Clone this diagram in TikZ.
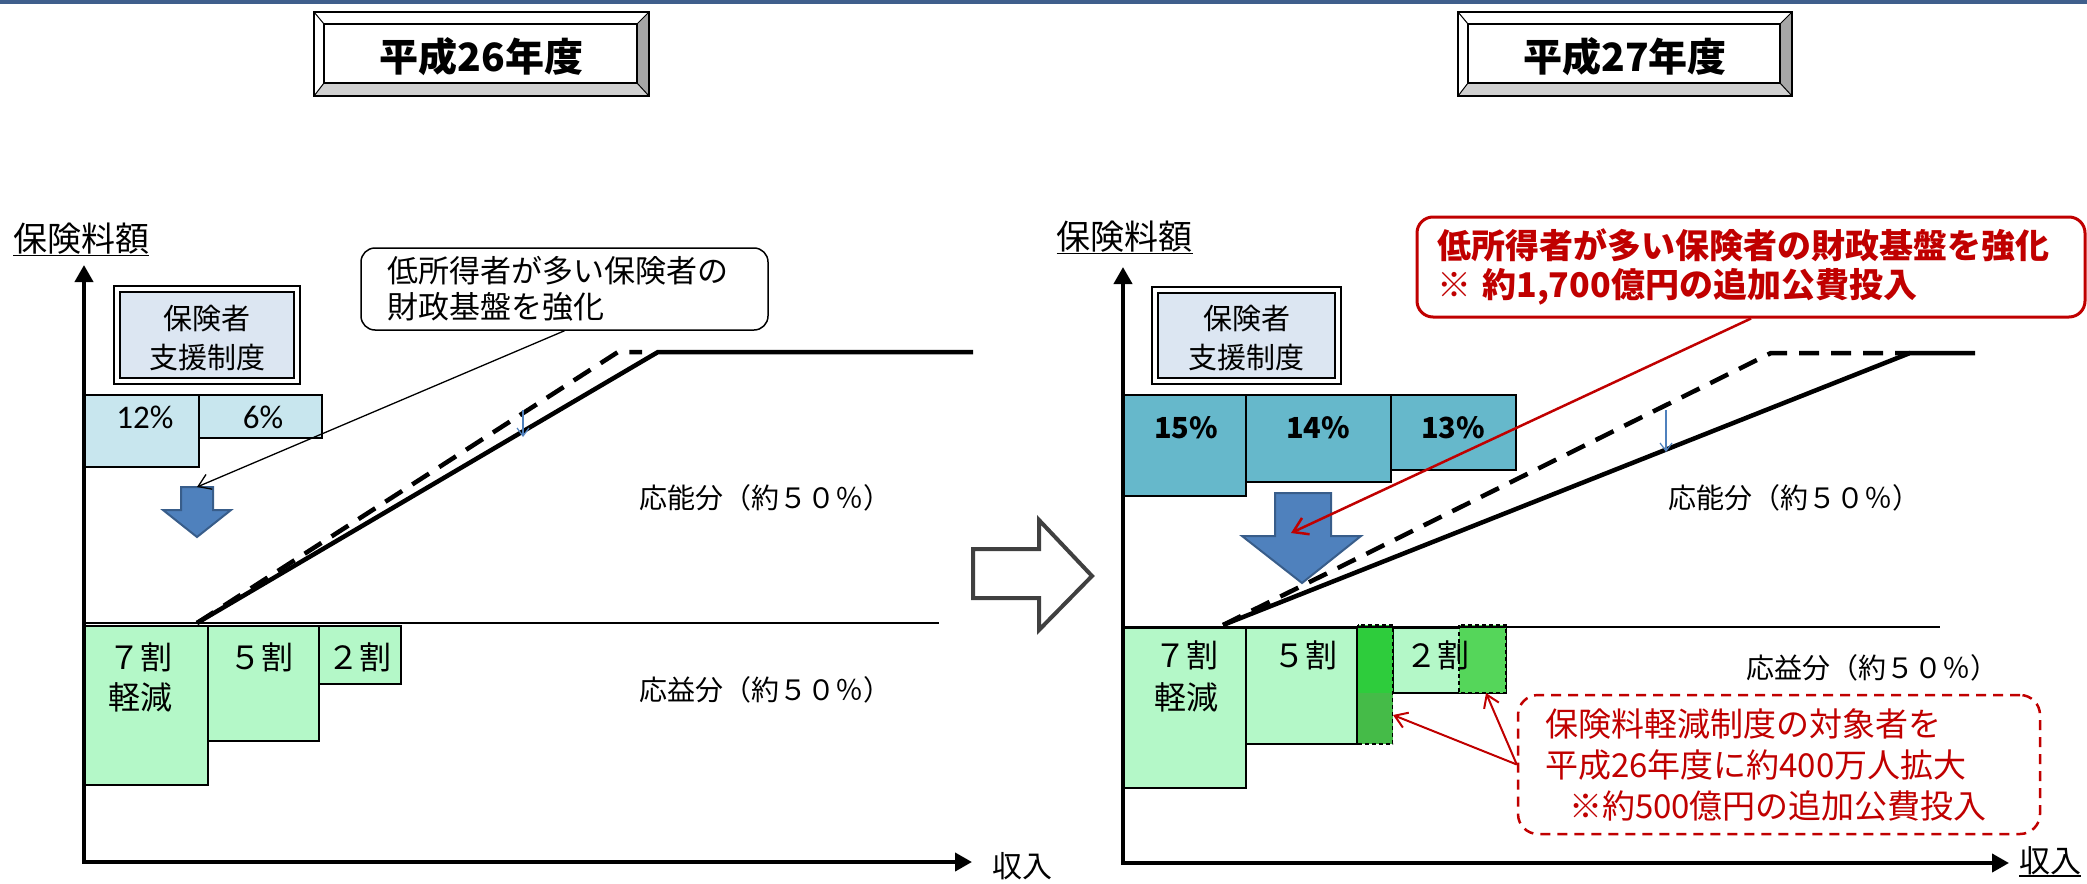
\documentclass[tikz,border=0pt]{standalone}
\usepackage{fontspec}
\setmainfont{Noto Sans CJK JP}
\newfontfamily\calfont{Carlito}
\usetikzlibrary{arrows.meta}
\definecolor{topblue}{HTML}{3F5F8C}
\definecolor{suppfill}{HTML}{DCE6F2}
\definecolor{lightcyan}{HTML}{C8E6EE}
\definecolor{tealbox}{HTML}{66B8CB}
\definecolor{lgreen}{HTML}{B4F8C8}
\definecolor{dgreen}{HTML}{2ECC3C}
\definecolor{mgreen}{HTML}{45BB48}
\definecolor{sgreen}{HTML}{55D65A}
\definecolor{arrblue}{HTML}{4F81BD}
\definecolor{arrborder}{HTML}{385D8A}
\definecolor{darkred}{HTML}{C00000}
\definecolor{arrgray}{HTML}{404040}
\definecolor{bevright}{HTML}{A6A6A6}
\definecolor{bevbottom}{HTML}{D0D0D0}
\newcommand\fs[2]{\fontsize{#1pt}{#2pt}\selectfont}
\newcommand\titlebox[4]{%
  \fill[white] (#1,12) -- (#2,12) -- ({#2-12},24) -- ({#1+10},24) -- cycle;
  \fill[white] (#1,12) -- ({#1+10},24) -- ({#1+10},83) -- (#1,96) -- cycle;
  \fill[bevright] (#2,12) -- (#2,96) -- ({#2-12},83) -- ({#2-12},24) -- cycle;
  \fill[bevbottom] (#1,96) -- (#2,96) -- ({#2-12},83) -- ({#1+10},83) -- cycle;
  \draw[line width=1pt] (#1,12) -- ({#1+10},24) (#2,12) -- ({#2-12},24)
        (#1,96) -- ({#1+10},83) (#2,96) -- ({#2-12},83);
  \draw[line width=2.5pt] (#1,12) rectangle (#2,96);
  \draw[line width=1.5pt] ({#1+10},24) rectangle ({#2-12},83);
  \node[tx, font=\bfseries\fs{39}{39}] (#3) at ({(#1+#2)/2},57) {#4};
}
\newcommand\suppbox[5]{%
  \draw[line width=2.5pt, fill=white] (#1,#2) rectangle (#3,#4);
  \draw[line width=2.5pt, fill=suppfill] ({#1+6},{#2+6}) rectangle ({#3-6},{#4-6});
  \node[tx, font=\fs{29}{39}, align=center] (#5) at ({(#1+#3)/2},{(#2+#4)/2+3}) {保険者\\支援制度};
}
\begin{document}
\begin{tikzpicture}[x=1pt,y=-1pt,
  tx/.style={inner sep=0pt, outer sep=0pt, anchor=center},
  boxline/.style={draw=black, line width=2.5pt},
  axes/.style={line width=4pt, line join=miter, {Triangle[length=17pt,width=18pt]}-{Triangle[length=17pt,width=18pt]}},
  solidline/.style={line width=4.5pt, line join=miter},
  dashline/.style={line width=4.5pt, dash pattern=on 20pt off 12pt},
  smallarrow/.style={draw=arrblue, line width=1.2pt, -{Straight Barb[length=8pt,width=12pt]}},
  redarrow/.style={draw=darkred, line width=2.5pt, -{Straight Barb[length=14pt,width=18pt]}},
  redarrowthin/.style={draw=darkred, line width=2pt, -{Straight Barb[length=12pt,width=16pt]}},
  blkarrow/.style={draw=black, line width=1.3pt, -{Straight Barb[length=12pt,width=16pt]}},
  bigarrow/.style={fill=arrblue, draw=arrborder, line width=2pt, line join=miter},
  strip/.style={draw=black, line width=1.5pt, dash pattern=on 4pt off 3pt},
  uline/.style={line width=1.5pt},
]
\useasboundingbox (0,0) rectangle (2087,883);
\fill[topblue] (0,0) rectangle (2087,4);

\titlebox{314}{649}{t26}{平成26年度}
\titlebox{1458}{1792}{t27}{平成27年度}

% hollow arrow between panels
\draw[arrgray, fill=white, line width=4pt, line join=miter]
  (973,549) -- (1039,549) -- (1039,520) -- (1092,576) -- (1039,630) -- (1039,598) -- (973,598) -- cycle;

% ================= LEFT PANEL =================
\draw[boxline, fill=lightcyan] (84,395) rectangle (199,467);
\draw[boxline, fill=lightcyan] (199,395) rectangle (322,438);
\node[tx, font=\calfont\fs{33}{33}] (p12) at (145,417) {12\%};
\node[tx, font=\calfont\fs{33}{33}] (p6) at (263,417) {6\%};

\draw[boxline, fill=lgreen] (84,626) rectangle (208,785);
\draw[boxline, fill=lgreen] (208,626) rectangle (319,741);
\draw[boxline, fill=lgreen] (319,626) rectangle (401,684);
\node[tx, font=\fs{32}{40}, align=center] (g7l) at (140,677) {７割\\軽減};
\node[tx, font=\fs{32}{32}] (g5l) at (261,657) {５割};
\node[tx, font=\fs{32}{32}] (g2l) at (359,657) {２割};

\draw[line width=1.5pt] (84,623) -- (939,623);
\coordinate (ls) at (197,623);
\draw[solidline] (ls) -- (658,352) -- (973,352);
\draw[dashline] (ls) -- (618,352) -- (642,352);
\draw[smallarrow] (523,410) -- (523,437);

\suppbox{114}{286}{300}{384}{sup1}

\draw[bigarrow] (181,487) -- (213,487) -- (213,510) -- (231,510) -- (197,537) -- (163,510) -- (181,510) -- cycle;
\coordinate (ba1) at (197,487);

\node[draw=black, line width=1.5pt, rounded corners=14pt, minimum width=407pt, minimum height=82pt,
      text width=355pt, align=left, inner sep=0pt, font=\fs{31}{36}] (call1) at (564.5,289)
      {低所得者が多い保険者の\\財政基盤を強化};
\draw[blkarrow] (call1.south) -- (ba1);

\node[tx, font=\fs{28}{28}] (nl1) at (765,498) {応能分（約５０％）};
\node[tx, font=\fs{28}{28}] (el1) at (765,690) {応益分（約５０％）};

\node[tx, font=\fs{34}{34}] (yl1) at (81,239) {保険料額};
\draw[uline] ([yshift=-1pt]yl1.south west) -- ([yshift=-1pt]yl1.south east);
\draw[axes] (84,265) -- (84,862) -- (972,862);
\node[tx, font=\fs{30}{30}] (xl1) at (1022,866) {収入};

% ================= RIGHT PANEL =================
\draw[boxline, fill=tealbox] (1123,395) rectangle (1246,496);
\draw[boxline, fill=tealbox] (1246,395) rectangle (1391,482);
\draw[boxline, fill=tealbox] (1391,395) rectangle (1516,470);
\node[tx, font=\bfseries\fs{29}{29}] (p15) at (1186,428) {15\%};
\node[tx, font=\bfseries\fs{29}{29}] (p14) at (1318,428) {14\%};
\node[tx, font=\bfseries\fs{29}{29}] (p13) at (1453,428) {13\%};

\draw[boxline, fill=lgreen] (1123,628) rectangle (1246,788);
\draw[boxline, fill=lgreen] (1246,628) rectangle (1357.5,744);
\draw[boxline, fill=lgreen] (1392.6,628) rectangle (1506,693);
\fill[dgreen] (1357.5,625) rectangle (1392.6,693);
\fill[mgreen] (1357.5,693) rectangle (1392.6,744);
\draw[strip] (1357.5,625) rectangle (1392.6,744);
\fill[sgreen] (1459,625) rectangle (1506,693);
\draw[strip] (1459,625) rectangle (1506,693);
\node[tx, font=\fs{32}{42}, align=center] (g7r) at (1186,676) {７割\\軽減};
\node[tx, font=\fs{32}{32}] (g5r) at (1305,655) {５割};
\node[tx, font=\fs{32}{32}] (g2r) at (1437,655) {２割};
\coordinate (st1) at (1393,715);
\coordinate (st2) at (1486,693);

\draw[line width=1.5pt] (1123,627) -- (1940,627);
\coordinate (rs) at (1223,625);
\draw[solidline] (rs) -- (1910,353) -- (1975,353);
\draw[dashline] (rs) -- (1771,353) -- (1910,353);
\draw[smallarrow] (1666,410) -- (1666,452);

\suppbox{1152}{287}{1341}{384}{sup2}

\draw[bigarrow] (1275,493) -- (1331,493) -- (1331,536) -- (1361,536) -- (1302,583) -- (1242,536) -- (1275,536) -- cycle;
\coordinate (ba2) at (1291,533);

\node[draw=darkred, line width=3pt, rounded corners=16pt, minimum width=668pt, minimum height=100pt,
      text width=628pt, align=left, inner sep=0pt, text=darkred, font=\bfseries\fs{34}{39}] (call2) at (1751,267)
      {低所得者が多い保険者の財政基盤を強化\\※ 約1,700億円の追加公費投入};
\draw[redarrow] (call2.south) -- (ba2);

\node[tx, font=\fs{28}{28}] (nl2) at (1794,498) {応能分（約５０％）};
\node[tx, font=\fs{28}{28}] (el2) at (1872,668) {応益分（約５０％）};

\node[draw=darkred, line width=2.5pt, dash pattern=on 10pt off 7pt, rounded corners=20pt,
      minimum width=522pt, minimum height=139pt, text width=468pt, align=left, inner sep=0pt,
      text=darkred, font=\fs{33}{41}] (rbox) at (1779,764.5)
      {保険料軽減制度の対象者を\\平成26年度に約400万人拡大\\\hspace*{24pt}※約500億円の追加公費投入};
\draw[redarrowthin] (rbox.west) -- (st1);
\draw[redarrowthin] (rbox.west) -- (st2);

\node[tx, font=\fs{34}{34}] (yl2) at (1124.5,237) {保険料額};
\draw[uline] ([yshift=-1pt]yl2.south west) -- ([yshift=-1pt]yl2.south east);
\draw[axes] (1123,267) -- (1123,863) -- (2009,863);
\node[tx, font=\fs{31}{31}] (xl2) at (2050,861) {収入};
\draw[uline] ([yshift=-1pt]xl2.south west) -- ([yshift=-1pt]xl2.south east);
\end{tikzpicture}
\end{document}
